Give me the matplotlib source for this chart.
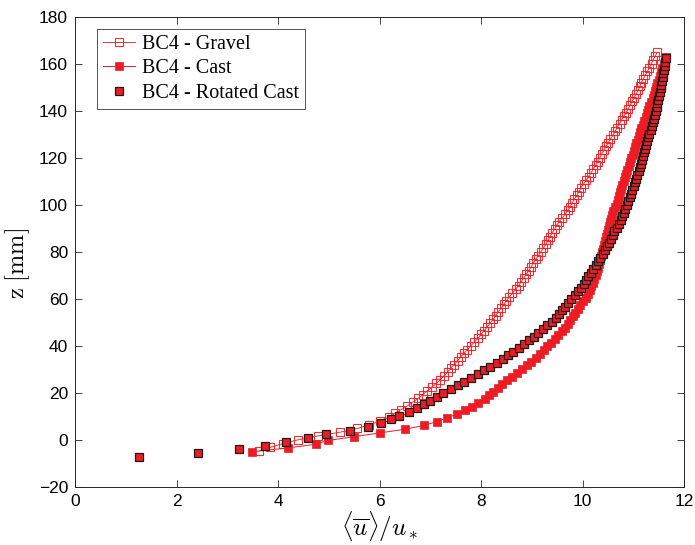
import matplotlib
matplotlib.use("Agg")
import matplotlib.pyplot as plt

# ---- data ----
gravel_z = [-4.7, -3.1, -1.5, 0.1, 1.7, 3.3, 4.9, 6.5, 8.1, 9.7, 11.3, 12.9, 14.5, 16.1, 17.7, 19.3, 20.9, 22.5,
            24.1, 25.7, 27.3, 28.9, 30.5, 32.1, 33.7, 35.3, 36.9, 38.5, 40.1, 41.7, 43.3, 44.9, 46.5, 48.1, 49.7,
            51.3, 52.9, 54.5, 56.1, 57.7, 59.3, 60.9, 62.5, 64.1, 65.7, 67.3, 68.9, 70.5, 72.1, 73.7, 75.3, 76.9,
            78.5, 80.1, 81.7, 83.3, 84.9, 86.5, 88.1, 89.7, 91.3, 92.9, 94.5, 96.1, 97.7, 99.3, 100.9, 102.5,
            104.1, 105.7, 107.3, 108.9, 110.5, 112.1, 113.7, 115.3, 116.9, 118.5, 120.1, 121.7, 123.3, 124.9,
            126.5, 128.1, 129.7, 131.3, 132.9, 134.5, 136.1, 137.7, 139.3, 140.9, 142.5, 144.1, 145.7, 147.3,
            148.9, 150.5, 152.1, 153.7, 155.3, 156.9, 158.5, 160.1, 161.7, 163.3, 164.9]
gravel_u = [3.63, 3.85, 4.10, 4.40, 4.78, 5.22, 5.56, 5.80, 6.01, 6.18,
            6.30, 6.42, 6.55, 6.66, 6.76, 6.85, 6.94, 7.03, 7.12, 7.20,
            7.27, 7.34, 7.40, 7.47, 7.54, 7.60, 7.66, 7.73, 7.80, 7.87,
            7.94, 8.00, 8.06, 8.12, 8.18, 8.24, 8.29, 8.34, 8.40, 8.45,
            8.50, 8.56, 8.62, 8.68, 8.74, 8.79, 8.84, 8.89, 8.94, 8.99,
            9.03, 9.08, 9.13, 9.18, 9.23, 9.28, 9.32, 9.36, 9.40, 9.45,
            9.49, 9.54, 9.60, 9.66, 9.71, 9.76, 9.80, 9.84, 9.89, 9.93,
            9.97, 10.02, 10.07, 10.12, 10.17, 10.21, 10.26, 10.30, 10.34, 10.38,
            10.42, 10.46, 10.51, 10.55, 10.60, 10.64, 10.68, 10.73, 10.77, 10.81,
            10.86, 10.90, 10.94, 10.98, 11.02, 11.06, 11.10, 11.13, 11.16, 11.20,
            11.24, 11.28, 11.32, 11.36, 11.39, 11.43, 11.47]

cast_z = [-5.0, -3.4, -1.8, -0.2, 1.4, 3.0, 4.6, 6.2, 7.8, 9.4, 11.0, 12.6, 14.2, 15.8, 17.4, 19.0, 20.6, 22.2,
          23.8, 25.4, 27.0, 28.6, 30.2, 31.8, 33.4, 35.0, 36.6, 38.2, 39.8, 41.4, 43.0, 44.6, 46.2, 47.8, 49.4,
          51.0, 52.6, 54.2, 55.8, 57.4, 59.0, 60.6, 62.2, 63.8, 65.4, 67.0, 68.6, 70.2, 71.8, 73.4, 75.0, 76.6,
          78.2, 79.8, 81.4, 83.0, 84.6, 86.2, 87.8, 89.4, 91.0, 92.6, 94.2, 95.8, 97.4, 99.0, 100.6, 102.2,
          103.8, 105.4, 107.0, 108.6, 110.2, 111.8, 113.4, 115.0, 116.6, 118.2, 119.8, 121.4, 123.0, 124.6,
          126.2, 127.8, 129.4, 131.0, 132.6, 134.2, 135.8, 137.4, 139.0, 140.6, 142.2, 143.8, 145.4, 147.0,
          148.6, 150.2, 151.8, 153.4, 155.0, 156.6, 158.2, 159.8, 161.4, 163.0]
cast_u = [3.48, 4.19, 4.74, 4.98, 5.50, 6.00, 6.51, 6.87, 7.13, 7.33,
          7.52, 7.69, 7.82, 7.95, 8.07, 8.16, 8.24, 8.33, 8.42, 8.52,
          8.62, 8.71, 8.80, 8.90, 8.99, 9.08, 9.16, 9.24, 9.31, 9.38,
          9.45, 9.52, 9.59, 9.65, 9.71, 9.76, 9.81, 9.86, 9.91, 9.96,
          10.01, 10.06, 10.10, 10.14, 10.17, 10.20, 10.23, 10.26, 10.28, 10.31,
          10.33, 10.35, 10.37, 10.39, 10.41, 10.43, 10.45, 10.47, 10.49, 10.51,
          10.53, 10.55, 10.57, 10.59, 10.61, 10.64, 10.67, 10.69, 10.72, 10.74,
          10.76, 10.78, 10.81, 10.83, 10.86, 10.88, 10.91, 10.93, 10.96, 10.99,
          11.01, 11.04, 11.06, 11.09, 11.11, 11.14, 11.16, 11.19, 11.22, 11.25,
          11.27, 11.30, 11.32, 11.35, 11.38, 11.40, 11.43, 11.45, 11.47, 11.50,
          11.52, 11.55, 11.57, 11.60, 11.62, 11.65]

rot_z = [-7.2, -5.6, -4.0, -2.4, -0.8, 0.8, 2.4, 4.0, 5.6, 7.2, 8.8, 10.4, 12.0, 13.6, 15.2, 16.8, 18.4, 20.0,
         21.6, 23.2, 24.8, 26.4, 28.0, 29.6, 31.2, 32.8, 34.4, 36.0, 37.6, 39.2, 40.8, 42.4, 44.0, 45.6, 47.2,
         48.8, 50.4, 52.0, 53.6, 55.2, 56.8, 58.4, 60.0, 61.6, 63.2, 64.8, 66.4, 68.0, 69.6, 71.2, 72.8, 74.4,
         76.0, 77.6, 79.2, 80.8, 82.4, 84.0, 85.6, 87.2, 88.8, 90.4, 92.0, 93.6, 95.2, 96.8, 98.4, 100.0,
         101.6, 103.2, 104.8, 106.4, 108.0, 109.6, 111.2, 112.8, 114.4, 116.0, 117.6, 119.2, 120.8, 122.4,
         124.0, 125.6, 127.2, 128.8, 130.4, 132.0, 133.6, 135.2, 136.8, 138.4, 140.0, 141.6, 143.2, 144.8,
         146.4, 148.0, 149.6, 151.2, 152.8, 154.4, 156.0, 157.6, 159.2, 160.8, 162.4]
rot_u = [1.26, 2.43, 3.24, 3.74, 4.15, 4.59, 4.95, 5.41, 5.77, 6.02,
         6.22, 6.39, 6.58, 6.74, 6.88, 6.99, 7.13, 7.26, 7.40, 7.54,
         7.66, 7.80, 7.94, 8.06, 8.18, 8.32, 8.43, 8.53, 8.63, 8.74,
         8.85, 8.95, 9.04, 9.13, 9.22, 9.30, 9.39, 9.47, 9.54, 9.60,
         9.66, 9.72, 9.78, 9.86, 9.92, 9.98, 10.03, 10.07, 10.11, 10.16,
         10.21, 10.26, 10.30, 10.35, 10.40, 10.44, 10.48, 10.52, 10.56, 10.60,
         10.63, 10.67, 10.71, 10.75, 10.78, 10.81, 10.84, 10.87, 10.90, 10.93,
         10.96, 10.98, 11.01, 11.03, 11.06, 11.08, 11.11, 11.13, 11.15, 11.18,
         11.20, 11.22, 11.24, 11.26, 11.28, 11.30, 11.32, 11.34, 11.36, 11.38,
         11.40, 11.42, 11.44, 11.46, 11.47, 11.49, 11.51, 11.52, 11.54, 11.55,
         11.57, 11.58, 11.59, 11.61, 11.62, 11.63, 11.64]

labels = ["BC4 - Gravel", "BC4 - Cast", "BC4 - Rotated Cast"]
x_ticks = [0, 2, 4, 6, 8, 10, 12]
y_ticks = [-20, 0, 20, 40, 60, 80, 100, 120, 140, 160, 180]

assert len(gravel_z) == len(gravel_u)
assert len(cast_z) == len(cast_u)
assert len(rot_z) == len(rot_u)

RED = "#ED1C24"
AX = "#262626"

plt.rcParams["mathtext.fontset"] = "cm"

fig = plt.figure(figsize=(6.95, 5.45), dpi=100)
ax = fig.add_axes([75 / 695, 1 - 487 / 545, 609 / 695, 470 / 545])

ax.plot(gravel_u, gravel_z, "-", color=RED, lw=0.7, marker="s", ms=5.8,
        mfc="none", mec=RED, mew=0.8, alpha=0.9, label=labels[0], zorder=2)
ax.plot(cast_u, cast_z, "-", color=RED, lw=0.7, marker="s", ms=5.8,
        mfc=RED, mec=RED, mew=0.5, label=labels[1], zorder=3)
ax.plot(rot_u, rot_z, "none", marker="s", ms=5.8,
        mfc=RED, mec="#1a1a1a", mew=0.9, label=labels[2], zorder=4)

ax.set_xlim(0, 12)
ax.set_ylim(-20, 180)
ax.set_xticks(x_ticks)
ax.set_yticks(y_ticks)
ax.tick_params(direction="in", length=5, width=0.6, color=AX, top=True, right=True,
               labelsize=12.5, pad=5)
for lab in ax.get_xticklabels() + ax.get_yticklabels():
    lab.set_fontfamily("Liberation Sans")
for s in ax.spines.values():
    s.set_color(AX)
    s.set_linewidth(0.7)

ax.set_xlabel(r"$\langle\overline{u}\rangle/u_*$", fontsize=18)
ax.xaxis.set_label_coords(0.5, -0.048)
ax.xaxis.label.set_va("top")
ax.set_ylabel(r"$\mathrm{z\ [mm]}$", fontsize=17.5)
ax.yaxis.set_label_coords(-0.07, 0.475)

leg = ax.legend(loc="upper left", bbox_to_anchor=(0.036, 0.975), fancybox=False, shadow=False,
                frameon=True, borderpad=0.3, labelspacing=0.27, handlelength=1.6,
                handletextpad=0.35, borderaxespad=0.0,
                prop={"family": "Liberation Serif", "size": 14.5})
leg.get_frame().set_edgecolor(AX)
leg.get_frame().set_linewidth(0.7)

fig.savefig("out.png", dpi=100)
